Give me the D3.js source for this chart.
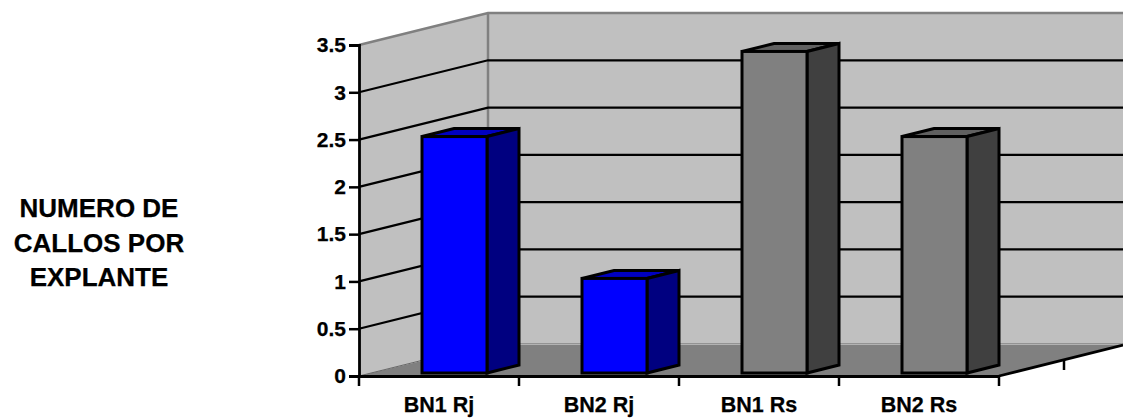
<!DOCTYPE html>
<html>
<head>
<meta charset="utf-8">
<script src="https://cdn.jsdelivr.net/npm/d3@7"></script>
<style>
html, body { margin: 0; padding: 0; background: #fff; overflow: hidden; }
text { font-family: "Liberation Sans", Arial, sans-serif; font-weight: bold; fill: #000; stroke: #000; stroke-width: 0.25px; }
</style>
</head>
<body>
<div id="chart_wrapper"></div>
<script>
var categories = ["BN1 Rj", "BN2 Rj", "BN1 Rs", "BN2 Rs"];
var values = [2.5, 1, 3.4, 2.5];
var yTicks = [0, 0.5, 1, 1.5, 2, 2.5, 3, 3.5];
var titleLines = ["NUMERO DE", "CALLOS POR", "EXPLANTE"];
var barFront = ["#0000ff", "#0000ff", "#808080", "#808080"];
var barSide = ["#000080", "#000080", "#404040", "#404040"];
var barTop = ["#0000c0", "#0000c0", "#606060", "#606060"];

var width = 1123, height = 418;
var plot = {left: 359, right: 999, bottom: 376, top: 45};
var depth = {x: 129, y: -32};       // wall offset, front axis to back wall
var barDepth = {x: 32, y: -8};      // bar offset
var barLift = 3;                    // bars stand a little off the front axis
var barWidth = 65;

var svg = d3.select("#chart_wrapper").append("svg").attr("width", width).attr("height", height);

var x = d3.scaleBand().domain(categories).range([plot.left, plot.right]);
var y = d3.scaleLinear().domain([0, 3.5]).range([plot.bottom, plot.top]);

function path(pts) { return "M" + pts.map(function(p) { return p.join(","); }).join("L") + "Z"; }

// walls and floor
svg.append("path")
    .attr("d", path([[plot.left, y(3.5)], [plot.left + depth.x, y(3.5) + depth.y], [plot.left + depth.x, y(0) + depth.y], [plot.left, y(0)]]))
    .attr("fill", "#c0c0c0");
svg.append("rect")
    .attr("x", plot.left + depth.x).attr("y", y(3.5) + depth.y)
    .attr("width", width - plot.left - depth.x).attr("height", y(0) - y(3.5))
    .attr("fill", "#c0c0c0");
svg.append("path")
    .attr("d", path([[plot.left, y(0)], [plot.left + depth.x, y(0) + depth.y + 1], [width, y(0) + depth.y + 1], [plot.right, y(0)]]))
    .attr("fill", "#808080");

// wall edges
svg.append("path")
    .attr("d", "M" + plot.left + "," + y(3.5) + "L" + (plot.left + depth.x) + "," + (y(3.5) + depth.y) + "H" + width
        + "M" + (plot.left + depth.x) + "," + (y(3.5) + depth.y) + "V" + (y(0) + depth.y))
    .attr("fill", "none").attr("stroke", "#808080").attr("stroke-width", 2.5);
svg.append("path")
    .attr("d", "M" + plot.left + "," + y(0) + "L" + (plot.left + depth.x) + "," + (y(0) + depth.y) + "H" + width)
    .attr("fill", "none").attr("stroke", "#666").attr("stroke-width", 1);

// gridlines
svg.selectAll(".grid").data(yTicks.slice(1, -1)).enter().append("path")
    .attr("class", "grid")
    .attr("d", function(d) {
        return "M" + plot.left + "," + y(d) + "L" + (plot.left + depth.x) + "," + (y(d) + depth.y) + "H" + width;
    })
    .attr("fill", "none").attr("stroke", "#000").attr("stroke-width", 2.2);

// bars
var bars = svg.selectAll(".bar").data(values).enter().append("g").attr("class", "bar");
function bx(i) { return x(categories[i]) + 63; }
function by() { return y(0) - barLift; }
function bt(d) { return y(d) - barLift; }

bars.append("path")
    .attr("d", function(d, i) {
        var l = bx(i), r = l + barWidth, t = bt(d);
        return path([[l, t], [l + barDepth.x, t + barDepth.y], [r + barDepth.x, t + barDepth.y], [r, t]]);
    })
    .attr("fill", function(d, i) { return barTop[i]; });
bars.append("path")
    .attr("d", function(d, i) {
        var r = bx(i) + barWidth, t = bt(d), b = by();
        return path([[r, t], [r + barDepth.x, t + barDepth.y], [r + barDepth.x, b + barDepth.y], [r, b]]);
    })
    .attr("fill", function(d, i) { return barSide[i]; });
bars.append("rect")
    .attr("x", function(d, i) { return bx(i); })
    .attr("y", function(d) { return bt(d); })
    .attr("width", barWidth)
    .attr("height", function(d) { return by() - bt(d); })
    .attr("fill", function(d, i) { return barFront[i]; });
bars.selectAll("path, rect")
    .attr("stroke", "#000").attr("stroke-width", 3).attr("stroke-linejoin", "miter");

// axes
var yAxis = svg.append("g")
    .attr("transform", "translate(" + plot.left + ",0)")
    .call(d3.axisLeft(y).tickValues(yTicks).tickFormat(d3.format("~g")).tickSize(10).tickPadding(3));
var xAxis = svg.append("g")
    .attr("transform", "translate(0," + plot.bottom + ")")
    .call(d3.axisBottom(x).tickSize(0).tickPadding(21));

// band edges get the ticks, not the band centres
xAxis.selectAll(".edge").data(d3.range(categories.length + 1)).enter().append("line")
    .attr("class", "edge")
    .attr("x1", function(d) { return plot.left + d * x.step(); })
    .attr("x2", function(d) { return plot.left + d * x.step(); })
    .attr("y1", 0).attr("y2", 10)
    .attr("stroke", "#000").attr("stroke-width", 2.5);

[yAxis, xAxis].forEach(function(a) {
    a.attr("font-family", null).attr("font-size", null);
    a.selectAll(".domain").attr("stroke", "#000").attr("stroke-width", 2.8);
    a.selectAll(".tick line").attr("stroke", "#000").attr("stroke-width", 2.5);
});
yAxis.selectAll("text").style("font-size", "21px");
xAxis.selectAll("text").style("font-size", "21.5px");

// depth edge at the right of the floor, with its tick
svg.append("line")
    .attr("x1", plot.right).attr("y1", y(0))
    .attr("x2", width).attr("y2", y(0) + depth.y + 1)
    .attr("stroke", "#000").attr("stroke-width", 2.8);
svg.append("line")
    .attr("x1", 1064).attr("y1", y(0) - 16)
    .attr("x2", 1064).attr("y2", y(0) - 6)
    .attr("stroke", "#000").attr("stroke-width", 2.5);

// side title
svg.selectAll(".title").data(titleLines).enter().append("text")
    .attr("class", "title")
    .attr("x", 99)
    .attr("y", function(d, i) { return 217 + i * 34.7; })
    .attr("text-anchor", "middle")
    .style("font-size", "26px")
    .text(function(d) { return d; });
</script>
</body>
</html>
